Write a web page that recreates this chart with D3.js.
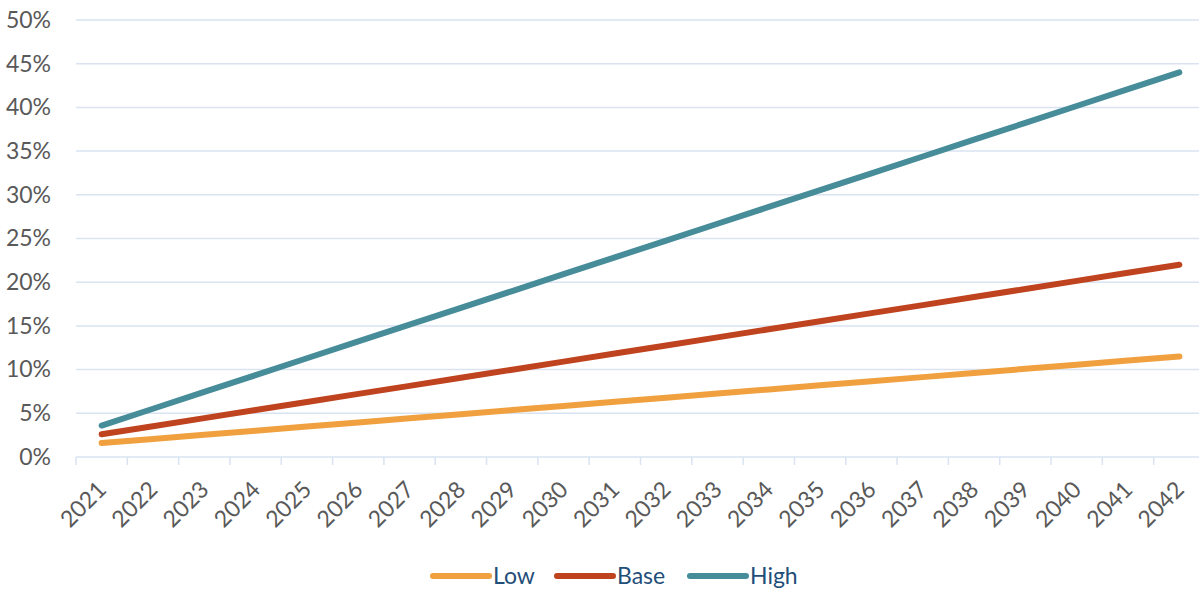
<!DOCTYPE html>
<html>
<head>
<meta charset="utf-8">
<script src="https://cdn.jsdelivr.net/npm/d3@7"></script>
<style>
  html, body { margin: 0; padding: 0; background: #fff; }
  svg { display: block; font-family: Lato, "Open Sans", sans-serif; }
</style>
</head>
<body>
<svg id="chart" width="1199" height="589"></svg>
<script>
// Projected share by scenario, 2021–2042 (percent)
const years = ["2021","2022","2023","2024","2025","2026","2027","2028","2029","2030","2031",
               "2032","2033","2034","2035","2036","2037","2038","2039","2040","2041","2042"];
const low  = [1.60,2.07,2.54,3.01,3.49,3.96,4.43,4.90,5.37,5.84,6.31,6.79,7.26,7.73,8.20,8.67,9.14,9.61,10.09,10.56,11.03,11.50];
const base = [2.60,3.52,4.45,5.37,6.30,7.22,8.14,9.07,9.99,10.91,11.84,12.76,13.69,14.61,15.53,16.46,17.38,18.30,19.23,20.15,21.08,22.00];
const high = [3.60,5.52,7.45,9.37,11.30,13.22,15.14,17.07,18.99,20.92,22.84,24.76,26.69,28.61,30.54,32.46,34.38,36.31,38.23,40.16,42.08,44.00];
const yTicks = [0,5,10,15,20,25,30,35,40,45,50];

const seriesNames = ["Low","Base","High"];
const seriesColors = ["#F0A03F","#C0431F","#468C99"];
const series = [low, base, high];

const svg = d3.select("#chart");
const plot = { left: 76, right: 1205, top: 20, bottom: 457 };

const x = d3.scaleBand().domain(years).range([plot.left, plot.right]);
const y = d3.scaleLinear().domain([0, 50]).range([plot.bottom, plot.top]);

// horizontal gridlines
svg.append("g").selectAll("line")
  .data(yTicks.filter(d => d > 0))
  .join("line")
  .attr("x1", plot.left).attr("x2", plot.right)
  .attr("y1", d => y(d)).attr("y2", d => y(d))
  .attr("stroke", "#D9E3F2").attr("stroke-width", 1.5);

// y axis labels
const yAxis = svg.append("g")
  .attr("transform", `translate(${plot.left},0)`)
  .call(d3.axisLeft(y).tickValues(yTicks).tickFormat(d => d + "%").tickSize(0).tickPadding(25));
yAxis.select(".domain").remove();
yAxis.selectAll("text")
  .attr("fill", "#595959").attr("font-size", 23).attr("font-family", "Lato, sans-serif");

// x axis baseline with tick marks at band boundaries
const xAxisG = svg.append("g");
xAxisG.append("line")
  .attr("x1", plot.left).attr("x2", plot.right)
  .attr("y1", plot.bottom).attr("y2", plot.bottom)
  .attr("stroke", "#D9E3F2").attr("stroke-width", 1.5);
xAxisG.selectAll("line.tick")
  .data(years)
  .join("line")
  .attr("class", "tick")
  .attr("x1", d => x(d)).attr("x2", d => x(d))
  .attr("y1", plot.bottom).attr("y2", plot.bottom + 8)
  .attr("stroke", "#D9E3F2").attr("stroke-width", 1.5);

// rotated year labels
xAxisG.selectAll("text")
  .data(years)
  .join("text")
  .attr("transform", d => `translate(${x(d) + x.bandwidth() / 2 + 6},${plot.bottom + 34}) rotate(-45)`)
  .attr("text-anchor", "end")
  .attr("fill", "#595959")
  .attr("font-size", 23)
  .text(d => d);

// scenario lines
const line = d3.line()
  .x((d, i) => x(years[i]) + x.bandwidth() / 2)
  .y(d => y(d));

svg.append("g").selectAll("path")
  .data(series)
  .join("path")
  .attr("d", d => line(d))
  .attr("fill", "none")
  .attr("stroke", (d, i) => seriesColors[i])
  .attr("stroke-width", 6)
  .attr("stroke-linecap", "round")
  .attr("stroke-linejoin", "round");

// legend
const legendX = [433, 557, 690];
const legend = svg.append("g");
seriesNames.forEach((name, i) => {
  const g = legend.append("g").attr("transform", `translate(${legendX[i]},576)`);
  g.append("line")
    .attr("x1", 0).attr("x2", 56).attr("y1", 0).attr("y2", 0)
    .attr("stroke", seriesColors[i]).attr("stroke-width", 6).attr("stroke-linecap", "round");
  g.append("text")
    .attr("x", 60).attr("y", 8)
    .attr("fill", "#1F4E79").attr("font-size", 23)
    .text(name);
});
</script>
</body>
</html>
